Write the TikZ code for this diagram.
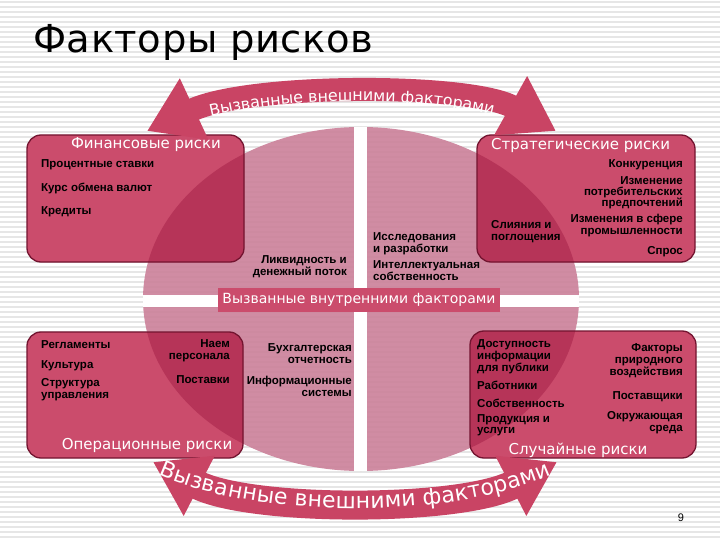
\documentclass[tikz,border=0pt]{standalone}
\usepackage{fontspec}
\setmainfont{Liberation Sans}
\newfontfamily\dejavu{DejaVu Sans}
\newfontfamily\titlef[LetterSpace=1.5]{DejaVu Sans}
\usetikzlibrary{arrows.meta,decorations.text}
\definecolor{ellc}{RGB}{203,128,153}
\definecolor{boxc}{RGB}{203,76,108}
\definecolor{boxin}{RGB}{182,52,88}
\definecolor{edgec}{RGB}{115,20,48}
\definecolor{bandc}{RGB}{201,68,100}
\definecolor{stripec}{RGB}{230,230,230}
\newcommand\riskboxdraw[2]{%
  \fill[boxc, rounded corners=14pt] #1 rectangle #2;
  \begin{scope}
    \clip[rounded corners=14pt] #1 rectangle #2;
    \fill[boxin] (361,299) ellipse [x radius=218pt, y radius=172pt];
  \end{scope}
  \draw[edgec, line width=1.3pt, rounded corners=14pt] #1 rectangle #2;
}
\begin{document}
\begin{tikzpicture}[x=1pt,y=-1pt,
  item/.style={font=\bfseries\fontsize{11.5}{12}\selectfont, inner sep=0pt, text=black},
  tight/.style={font=\bfseries\fontsize{11.5}{10.5}\selectfont},
  ttl/.style={font=\dejavu\fontsize{15}{15}\selectfont, text=white, inner sep=0pt},
  band/.style={bandc, {Triangle[length=52pt,width=64pt]}-{Triangle[length=52pt,width=64pt]}},
 ]
\useasboundingbox (0,0) rectangle (720,540);
\fill[white] (0,0) rectangle (720,540);
\foreach \k in {0,...,107} \draw[stripec, line width=1.5pt] (0,\k*5+2) -- (720,\k*5+2);

% central ellipse with white cross
\fill[ellc, fill opacity=0.9] (361,299) ellipse [x radius=218pt, y radius=172pt];
\begin{scope}
  \clip (361,299) ellipse [x radius=218pt, y radius=172pt];
  \fill[white] (354,100) rectangle (367,500);
  \fill[white] (100,295) rectangle (620,307);
\end{scope}
\node[fill=boxc, minimum width=282pt, minimum height=24pt, inner sep=0pt,
      font=\dejavu\fontsize{14}{14}\selectfont, text=white] (inner) at (359,300)
      {Вызванные внутренними факторами};

% four risk boxes
\riskboxdraw{(27,135)}{(244,262)}
\riskboxdraw{(477,135)}{(695,262)}
\riskboxdraw{(27,332)}{(243,458)}
\riskboxdraw{(470,331)}{(696,458)}

% external-factor arcs
\draw[band, line width=23pt] (147,131) .. controls (250,83) and (470,83) .. (556,131);
\path[decorate, decoration={text along path, text align=center, raise=-6pt,
  text={|\dejavu\fontsize{16}{16}\selectfont\color{white}|Вызванные внешними факторами}}]
  (147,131) .. controls (250,83) and (470,83) .. (556,131);
\draw[band, line width=29pt] (153,462) .. controls (250,512) and (460,512) .. (557,462);
\path[decorate, decoration={text along path, text align=center, raise=-9pt,
  text={|\dejavu\fontsize{22}{22}\selectfont\color{white}|Вызванные внешними факторами}}]
  (153,462) .. controls (250,512) and (460,512) .. (557,462);

% title
\node[font=\titlef\fontsize{38.5}{38.5}\selectfont, anchor=west, inner sep=0pt] (title) at (33,42) {Факторы рисков};

% financial
\node[ttl] (fint) at (146,145) {Финансовые риски};
\node[item, anchor=west] (f1) at (41,165) {Процентные ставки};
\node[item, anchor=west] (f2) at (41,188) {Курс обмена валют};
\node[item, anchor=west] (f3) at (41,212) {Кредиты};

% strategic
\node[ttl, anchor=west] (strt) at (491,145) {Стратегические риски};
\node[item, anchor=east] (s1) at (683,165) {Конкуренция};
\node[item, tight, anchor=east, align=right] (s2) at (683,193) {Изменение\\потребительских\\предпочтений};
\node[item, anchor=east, align=right] (s3) at (683,226) {Изменения в сфере\\промышленности};
\node[item, anchor=east] (s4) at (683,252) {Спрос};
\node[item, anchor=west, align=left] (s5) at (491,232) {Слияния и\\поглощения};

% centre
\node[item, anchor=east, align=right] (c1) at (347,267) {Ликвидность и\\денежный поток};
\node[item, anchor=west, align=left] (c2) at (373,244) {Исследования\\и разработки};
\node[item, anchor=west, align=left] (c3) at (373,271) {Интеллектуальная\\собственность};
\node[item, anchor=east, align=right] (c4) at (352,354) {Бухгалтерская\\отчетность};
\node[item, anchor=east, align=right] (c5) at (352,386) {Информационные\\системы};

% operational
\node[item, anchor=west] (o1) at (41,345) {Регламенты};
\node[item, anchor=west] (o2) at (41,366) {Культура};
\node[item, anchor=west, align=left] (o3) at (41,390) {Структура\\управления};
\node[item, anchor=east, align=right] (o4) at (230,351) {Наем\\персонала};
\node[item, anchor=east] (o5) at (230,380) {Поставки};
\node[ttl] (opt) at (147,445) {Операционные риски};

% random
\node[item, tight, anchor=west, align=left] (r1) at (477,357) {Доступность\\информации\\для публики};
\node[item, anchor=west] (r2) at (477,385) {Работники};
\node[item, anchor=west] (r3) at (477,403) {Собственность};
\node[item, tight, anchor=west, align=left] (r4) at (477,425) {Продукция и\\услуги};
\node[item, anchor=east, align=right] (r5) at (683,361) {Факторы\\природного\\воздействия};
\node[item, anchor=east] (r6) at (683,397) {Поставщики};
\node[item, anchor=east, align=right] (r7) at (683,423) {Окружающая\\среда};
\node[ttl] (rndt) at (578,450) {Случайные риски};

\node[font=\fontsize{11}{11}\selectfont, inner sep=0pt] (pg) at (681,518) {9};
\end{tikzpicture}
\end{document}
